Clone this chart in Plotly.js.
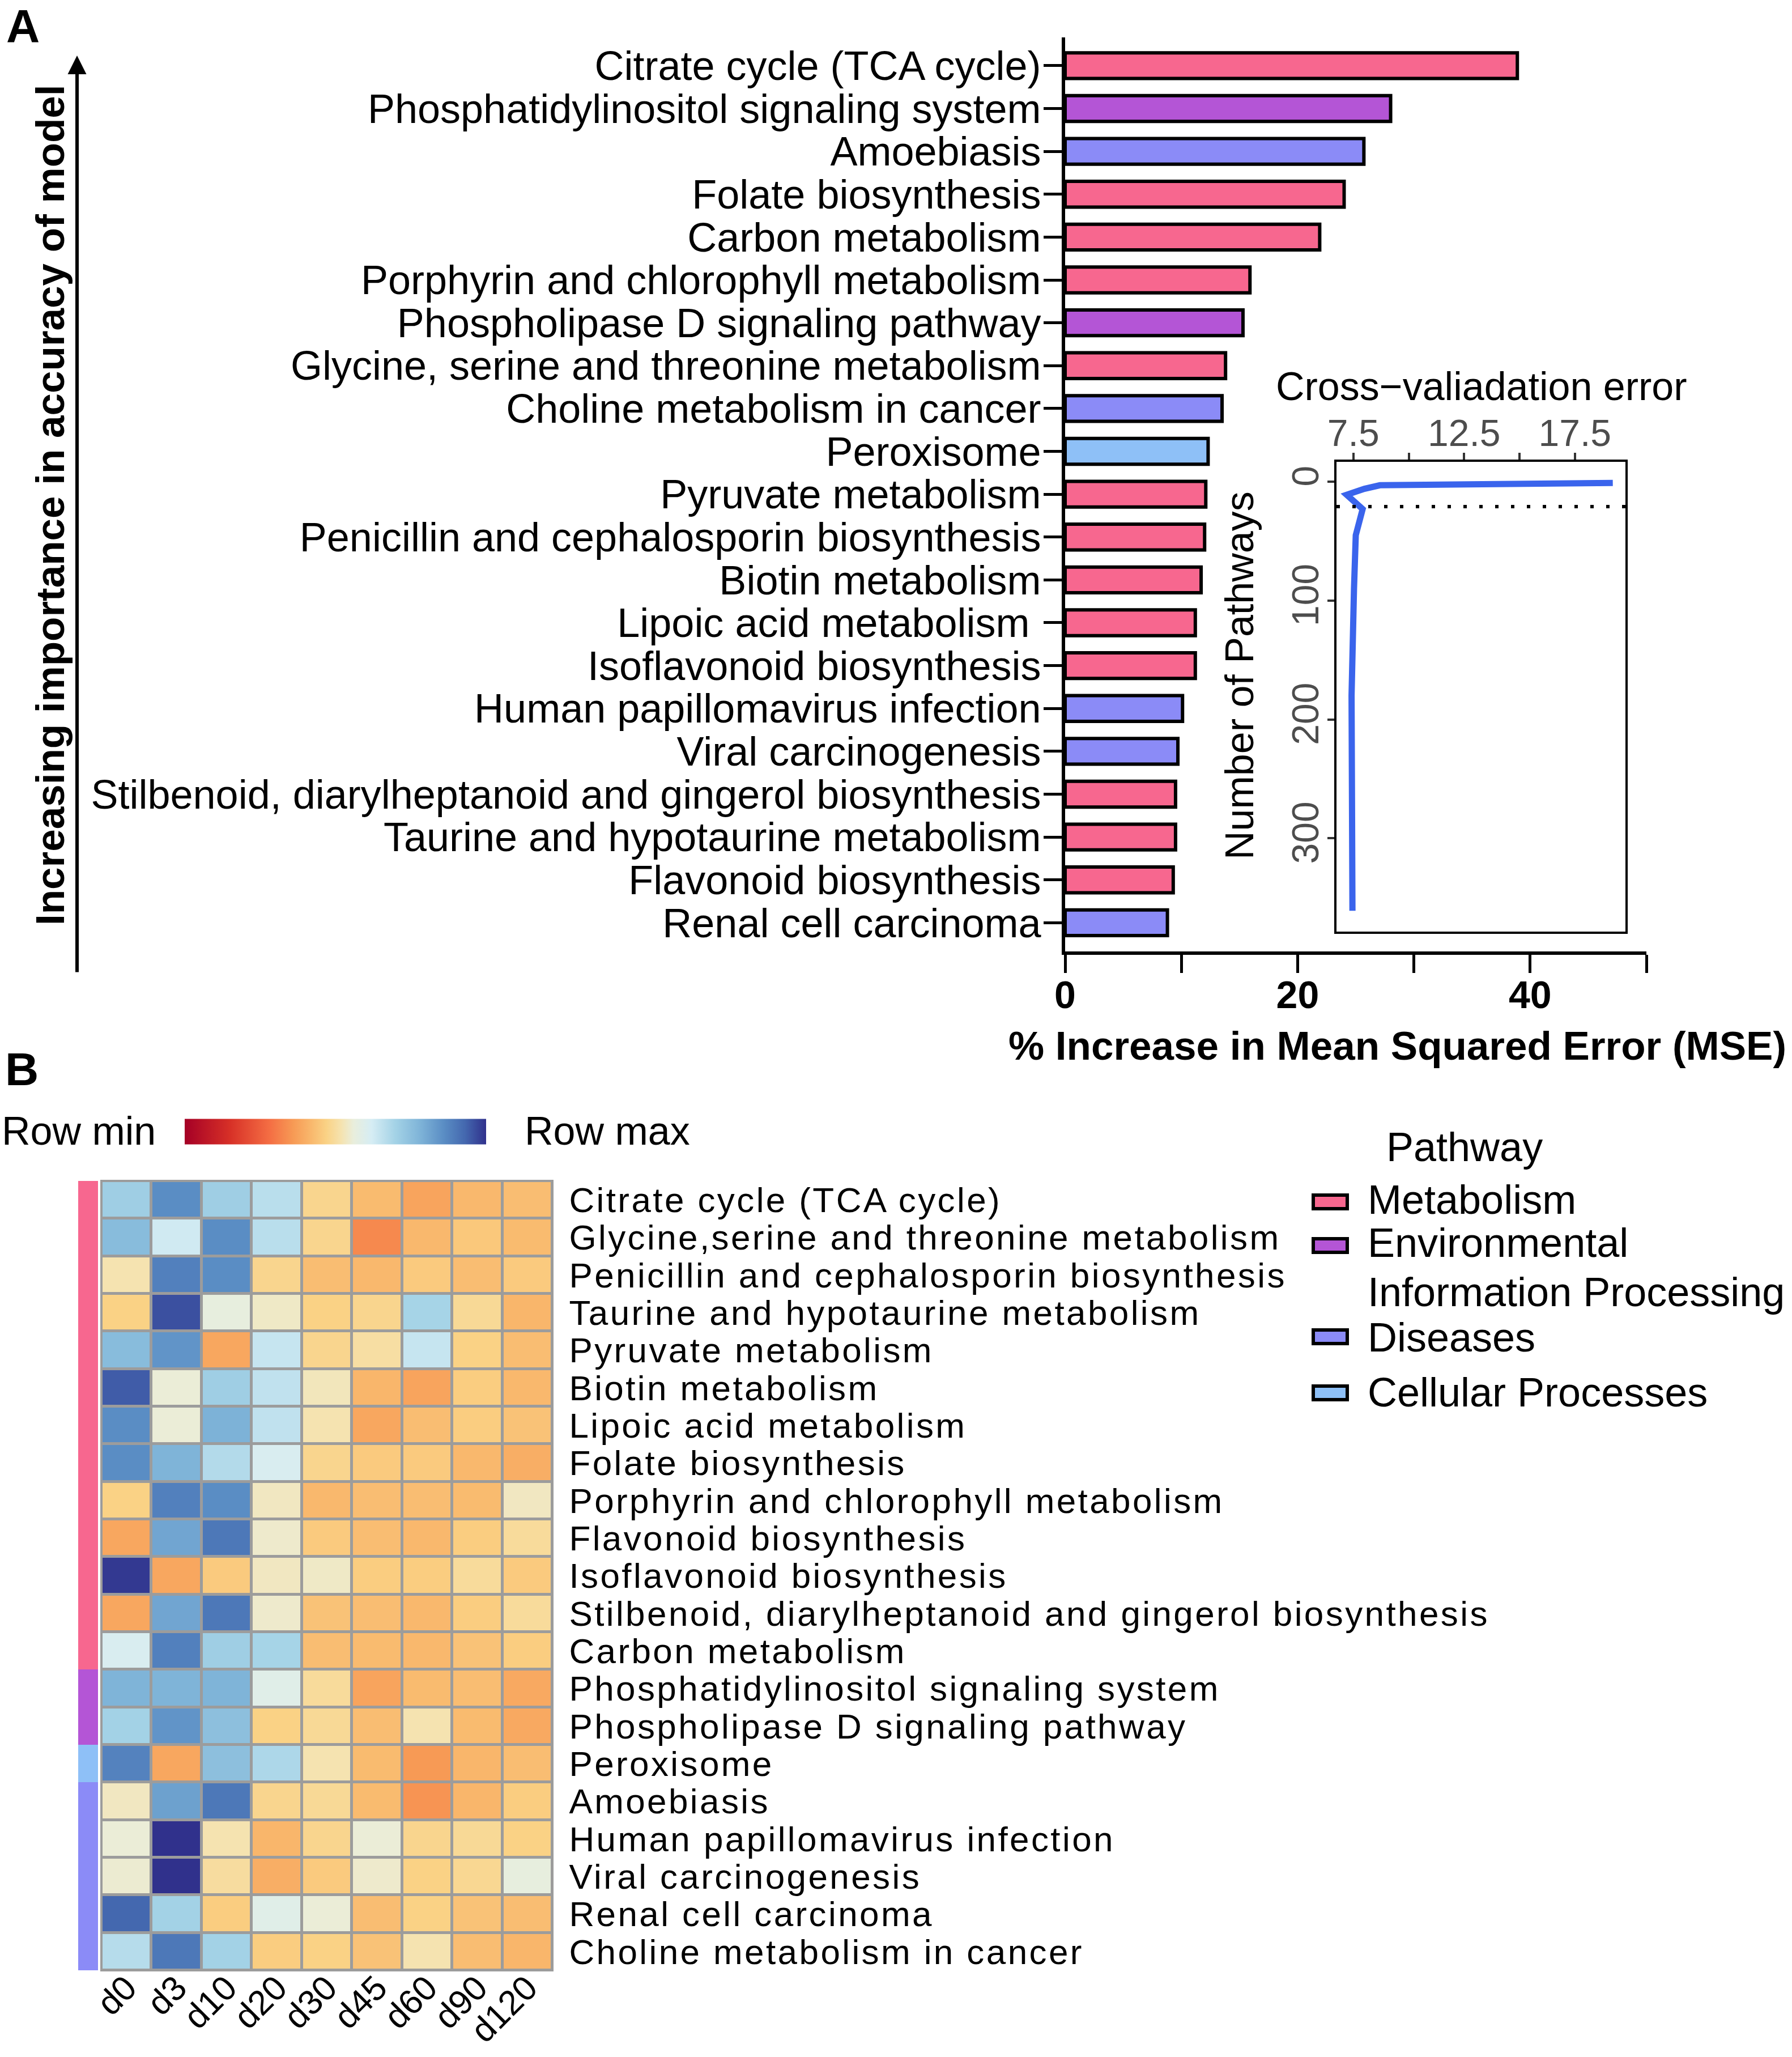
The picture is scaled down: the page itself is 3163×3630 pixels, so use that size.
<!DOCTYPE html>
<html>
<head>
<meta charset="utf-8">
<script src="https://cdn.plot.ly/plotly-3.0.1.min.js"></script>
<style>
html,body{margin:0;padding:0;background:#fff;}
g.y4tick text{letter-spacing:3.4px;}
</style>
</head>
<body>
<div id="chart"></div>
<script>
// ---------------- DATA ----------------
const pathwayGroups = ['Metabolism', 'Environmental Information Processing', 'Diseases', 'Cellular Processes'];
const groupColors = ['#F7678F', '#B455D6', '#8B8BF7', '#8EC0F7'];

// Panel A: importance bars (top to bottom)
const barLabels = [
  'Citrate cycle (TCA cycle)', 'Phosphatidylinositol signaling system', 'Amoebiasis',
  'Folate biosynthesis', 'Carbon metabolism', 'Porphyrin and chlorophyll metabolism',
  'Phospholipase D signaling pathway', 'Glycine, serine and threonine metabolism',
  'Choline metabolism in cancer', 'Peroxisome', 'Pyruvate metabolism',
  'Penicillin and cephalosporin biosynthesis', 'Biotin metabolism', 'Lipoic acid metabolism\u00a0',
  'Isoflavonoid biosynthesis', 'Human papillomavirus infection', 'Viral carcinogenesis',
  'Stilbenoid, diarylheptanoid and gingerol biosynthesis', 'Taurine and hypotaurine metabolism',
  'Flavonoid biosynthesis', 'Renal cell carcinoma'
];
const barIncMSE = [38.9, 28.0, 25.7, 24.0, 21.9, 15.9, 15.3, 13.8, 13.5, 12.3, 12.1, 12.0, 11.7, 11.2, 11.2, 10.1, 9.7, 9.5, 9.5, 9.3, 8.8];
const barGroup = [0, 1, 2, 0, 0, 0, 1, 0, 2, 3, 0, 0, 0, 0, 0, 2, 2, 0, 0, 0, 2];
const barTicks = [0, 10, 20, 30, 40, 50];
const barTickText = ['0', '', '20', '', '40', ''];

// Inset: cross-validation error
const cvNVars = [361, 180, 90, 45, 23, 11, 6, 3, 1];
const cvError = [7.46, 7.42, 7.53, 7.61, 7.92, 7.20, 8.00, 8.70, 19.21];
const cvSelected = 21;
const cvXTicks = [7.5, 10, 12.5, 15, 17.5];
const cvXTickText = ['7.5', '', '12.5', '', '17.5'];
const cvYTicks = [0, 100, 200, 300];

// Panel B: heatmap (row-scaled, 0 = row min, 1 = row max)
const timePoints = ['d0', 'd3', 'd10', 'd20', 'd30', 'd45', 'd60', 'd90', 'd120'];
const heatRows = [
  'Citrate cycle (TCA cycle)', 'Glycine,serine and threonine metabolism',
  'Penicillin and cephalosporin biosynthesis', 'Taurine and hypotaurine metabolism',
  'Pyruvate metabolism', 'Biotin metabolism', 'Lipoic acid metabolism', 'Folate biosynthesis',
  'Porphyrin and chlorophyll metabolism', 'Flavonoid biosynthesis', 'Isoflavonoid biosynthesis',
  'Stilbenoid, diarylheptanoid and gingerol biosynthesis', 'Carbon metabolism',
  'Phosphatidylinositol signaling system', 'Phospholipase D signaling pathway', 'Peroxisome',
  'Amoebiasis', 'Human papillomavirus infection', 'Viral carcinogenesis',
  'Renal cell carcinoma', 'Choline metabolism in cancer'
];
const heatGroup = [0,0,0,0,0,0,0,0,0,0,0,0,0,1,1,3,2,2,2,2,2];
const heatZ = [
  [0.71, 0.86, 0.71, 0.665, 0.48, 0.425, 0.38, 0.42, 0.43],
  [0.76, 0.63, 0.86, 0.665, 0.48, 0.33, 0.42, 0.45, 0.425],
  [0.52, 0.885, 0.86, 0.48, 0.43, 0.42, 0.455, 0.43, 0.455],
  [0.47, 0.96, 0.565, 0.54, 0.47, 0.48, 0.695, 0.49, 0.415],
  [0.76, 0.845, 0.385, 0.645, 0.48, 0.505, 0.645, 0.47, 0.43],
  [0.945, 0.555, 0.71, 0.655, 0.53, 0.415, 0.38, 0.46, 0.42],
  [0.86, 0.555, 0.785, 0.655, 0.52, 0.385, 0.43, 0.46, 0.44],
  [0.86, 0.78, 0.675, 0.61, 0.48, 0.455, 0.455, 0.42, 0.40],
  [0.47, 0.885, 0.86, 0.535, 0.42, 0.43, 0.43, 0.425, 0.535],
  [0.385, 0.81, 0.90, 0.545, 0.455, 0.43, 0.42, 0.46, 0.495],
  [0.99, 0.385, 0.455, 0.535, 0.54, 0.46, 0.46, 0.495, 0.455],
  [0.385, 0.81, 0.90, 0.545, 0.44, 0.43, 0.42, 0.46, 0.495],
  [0.61, 0.885, 0.71, 0.695, 0.43, 0.425, 0.42, 0.44, 0.46],
  [0.78, 0.78, 0.78, 0.59, 0.495, 0.38, 0.425, 0.43, 0.39],
  [0.70, 0.845, 0.75, 0.47, 0.49, 0.43, 0.52, 0.425, 0.39],
  [0.88, 0.385, 0.75, 0.685, 0.52, 0.425, 0.36, 0.415, 0.43],
  [0.535, 0.82, 0.90, 0.48, 0.49, 0.425, 0.35, 0.415, 0.46],
  [0.555, 1.0, 0.52, 0.415, 0.48, 0.555, 0.48, 0.49, 0.47],
  [0.55, 1.0, 0.50, 0.40, 0.455, 0.545, 0.47, 0.485, 0.565],
  [0.93, 0.70, 0.46, 0.59, 0.555, 0.43, 0.47, 0.44, 0.43],
  [0.67, 0.90, 0.70, 0.46, 0.47, 0.44, 0.52, 0.43, 0.415]
];

// ---------------- STYLE / LAYOUT ----------------
const W = 3163, H = 3630;
const FONT = "'Liberation Sans', Arial, Helvetica, sans-serif";
const px = x => x / W;
const py = y => 1 - y / H;

const heatScale = [
  [0.00, '#a50026'], [0.15, '#d73027'], [0.28, '#f46d43'], [0.36, '#f79a55'],
  [0.42, '#f9b86d'], [0.47, '#fad285'], [0.52, '#f5e3b0'], [0.56, '#e9eedc'],
  [0.62, '#d6edf4'], [0.70, '#a3d2e6'], [0.78, '#7fb4d8'], [0.86, '#5a8dc4'],
  [0.93, '#4468af'], [1.00, '#30318c']
];

const traces = [];

// bars, one trace per pathway group
pathwayGroups.forEach((g, gi) => {
  const ys = [], xs = [];
  barLabels.forEach((lab, i) => { if (barGroup[i] === gi) { ys.push(lab); xs.push(barIncMSE[i]); } });
  traces.push({
    type: 'bar', orientation: 'h', name: g, x: xs, y: ys, width: 0.6,
    marker: { color: groupColors[gi], line: { color: 'black', width: 6 } },
    xaxis: 'x', yaxis: 'y', hoverinfo: 'x+y'
  });
});

// cross-validation inset
traces.push({
  type: 'scatter', mode: 'lines', x: cvError, y: cvNVars,
  line: { color: '#3A64EC', width: 11 }, xaxis: 'x3', yaxis: 'y3'
});

// heatmap
traces.push({
  type: 'heatmap', z: heatZ, x: timePoints, y: heatRows, xaxis: 'x4', yaxis: 'y4',
  zmin: 0, zmax: 1, colorscale: heatScale, xgap: 5, ygap: 5,
  colorbar: {
    orientation: 'h', x: px(592), xanchor: 'center', y: py(1997), yanchor: 'middle',
    len: 532, lenmode: 'pixels', thickness: 45, outlinewidth: 0,
    showticklabels: false, ticks: '', xpad: 0, ypad: 0
  }
});

// pathway annotation strip
const c0 = groupColors;
traces.push({
  type: 'heatmap', z: heatGroup.map(v => [v]), x: ['Pathway'], y: heatRows,
  xaxis: 'x5', yaxis: 'y5', zmin: 0, zmax: 3, showscale: false,
  colorscale: [[0, c0[0]], [0.1667, c0[0]], [0.1667, c0[1]], [0.5, c0[1]],
               [0.5, c0[2]], [0.8333, c0[2]], [0.8333, c0[3]], [1, c0[3]]]
});

const noAx = { showgrid: false, zeroline: false, showline: false, showticklabels: false, ticks: '' };

const shapes = [
  // heatmap cell border background
  { type: 'rect', xref: 'x4 domain', yref: 'y4 domain', x0: 0, x1: 1, y0: 0, y1: 1,
    fillcolor: '#9c9c9c', line: { color: '#9c9c9c', width: 4 }, layer: 'below' },
  // selected number of pathways
  { type: 'line', xref: 'x3 domain', yref: 'y3', x0: 0, x1: 1, y0: cvSelected, y1: cvSelected,
    line: { color: 'black', width: 6, dash: '6px,22px' } }
];

const annotations = [
  { text: '<b>A</b>', x: px(40), y: py(46), xref: 'paper', yref: 'paper', showarrow: false,
    font: { size: 82 }, xanchor: 'center', yanchor: 'middle' },
  { text: '<b>B</b>', x: px(38), y: py(1887), xref: 'paper', yref: 'paper', showarrow: false,
    font: { size: 82 }, xanchor: 'center', yanchor: 'middle' },
  // left arrow
  { text: '', x: px(136), y: py(98), xref: 'paper', yref: 'paper', showarrow: true,
    ax: 0, ay: 1619, arrowhead: 2, arrowsize: 1.1, arrowwidth: 6, arrowcolor: 'black', standoff: 0 },
  { text: '<b>Increasing importance in accuracy of model</b>', x: px(88), y: py(891),
    xref: 'paper', yref: 'paper', showarrow: false, textangle: -90, font: { size: 71 },
    xanchor: 'center', yanchor: 'middle' },
  { text: '<b>% Increase in Mean Squared Error (MSE)</b>', x: px(2466), y: py(1845),
    xref: 'paper', yref: 'paper', showarrow: false, font: { size: 71 },
    xanchor: 'center', yanchor: 'middle' },
  { text: 'Cross\u2212valiadation error', x: px(2615), y: py(682), xref: 'paper', yref: 'paper',
    showarrow: false, font: { size: 70 }, xanchor: 'center', yanchor: 'middle' },
  { text: 'Number of Pathways', x: px(2188), y: py(1192), xref: 'paper', yref: 'paper',
    showarrow: false, textangle: -90, font: { size: 70 }, xanchor: 'center', yanchor: 'middle' },
  { text: 'Row min', x: px(139), y: py(1996), xref: 'paper', yref: 'paper', showarrow: false,
    font: { size: 70 }, xanchor: 'center', yanchor: 'middle' },
  { text: 'Row max', x: px(1072), y: py(1996), xref: 'paper', yref: 'paper', showarrow: false,
    font: { size: 70 }, xanchor: 'center', yanchor: 'middle' },
  { text: 'Pathway', x: px(2585), y: py(2024), xref: 'paper', yref: 'paper', showarrow: false,
    font: { size: 72 }, xanchor: 'center', yanchor: 'middle' }
];

// manual legend
const legSwatchY = [2121, 2198, 2359, 2458];
const legText = [['Metabolism', 2117], ['Environmental', 2193], ['Information Processing', 2280], ['Diseases', 2360], ['Cellular Processes', 2457]];
pathwayGroups.forEach((g, gi) => {
  shapes.push({ type: 'rect', xref: 'paper', yref: 'paper',
    x0: px(2318), x1: px(2378), y0: py(legSwatchY[gi] + 12), y1: py(legSwatchY[gi] - 12),
    fillcolor: groupColors[gi], line: { color: 'black', width: 6 } });
});
legText.forEach(([t, y]) => {
  annotations.push({ text: t, x: px(2412), y: py(y), xref: 'paper', yref: 'paper', showarrow: false,
    font: { size: 72 }, xanchor: 'left', yanchor: 'middle' });
});

const layout = {
  width: W, height: H, margin: { l: 0, r: 0, t: 0, b: 0 },
  paper_bgcolor: 'white', plot_bgcolor: 'rgba(0,0,0,0)',
  font: { family: FONT, color: 'black', size: 60 },
  showlegend: false, barmode: 'overlay',
  xaxis: {
    domain: [px(1880), px(2906)], range: [0, 50], anchor: 'y', automargin: false,
    tickmode: 'array', tickvals: barTicks, ticktext: barTickText,
    ticks: 'outside', ticklen: 32, tickwidth: 5, tickcolor: 'black', ticklabelstandoff: -20,
    showline: true, linewidth: 6, linecolor: 'black', showgrid: false, zeroline: false,
    tickfont: { size: 68, weight: 'bold', family: FONT }
  },
  yaxis: {
    domain: [py(1679), py(66)], type: 'category', categoryorder: 'array', categoryarray: barLabels,
    tickmode: 'array', tickvals: barLabels, ticktext: barLabels,
    range: [20.67, -0.66], anchor: 'x', automargin: false,
    ticks: 'outside', ticklen: 32, tickwidth: 5, tickcolor: 'black', ticklabelstandoff: -10,
    showline: true, linewidth: 6, linecolor: 'black', showgrid: false, zeroline: false,
    tickfont: { size: 72, family: FONT }
  },
  xaxis3: {
    domain: [px(2359), px(2869)], range: [6.74, 19.78], anchor: 'y3', side: 'top', automargin: false,
    tickmode: 'array', tickvals: cvXTicks, ticktext: cvXTickText,
    ticks: 'outside', ticklen: 12, tickwidth: 4, tickcolor: '#333333', ticklabelstandoff: -14,
    showline: true, mirror: true, linewidth: 4, linecolor: 'black', showgrid: false, zeroline: false,
    tickfont: { size: 66, color: '#4d4d4d', family: FONT }
  },
  yaxis3: {
    domain: [py(1644), py(815)], range: [378.5, -16.7], anchor: 'x3', automargin: false,
    tickmode: 'array', tickvals: cvYTicks, tickangle: -90,
    ticks: 'outside', ticklen: 12, tickwidth: 4, tickcolor: '#333333', ticklabelstandoff: -10,
    showline: true, mirror: true, linewidth: 4, linecolor: 'black', showgrid: false, zeroline: false,
    tickfont: { size: 66, color: '#4d4d4d', family: FONT }
  },
  xaxis4: {
    domain: [px(179), px(975)], anchor: 'y4', type: 'category', automargin: false,
    tickmode: 'array', tickvals: timePoints, ticktext: timePoints,
    tickangle: -45, ticks: '', ticklabelstandoff: -18,
    showgrid: false, zeroline: false, showline: false, tickfont: { size: 61, family: FONT }
  },
  yaxis4: {
    domain: [py(3477), py(2084)], anchor: 'x4', type: 'category', side: 'right', automargin: false,
    tickmode: 'array', tickvals: heatRows, ticktext: heatRows,
    range: [20.5, -0.5], ticks: 'outside', ticklen: 16, tickcolor: 'rgba(0,0,0,0)',
    showgrid: false, zeroline: false, showline: false, tickfont: { size: 62, family: FONT }
  },
  xaxis5: Object.assign({ domain: [px(138), px(173)], anchor: 'y5', automargin: false }, noAx),
  yaxis5: Object.assign({ domain: [py(3477), py(2084)], anchor: 'x5', type: 'category',
    range: [20.5, -0.5], automargin: false }, noAx),
  shapes: shapes,
  annotations: annotations
};

Plotly.newPlot('chart', traces, layout, { displayModeBar: false, staticPlot: true });
</script>
</body>
</html>
